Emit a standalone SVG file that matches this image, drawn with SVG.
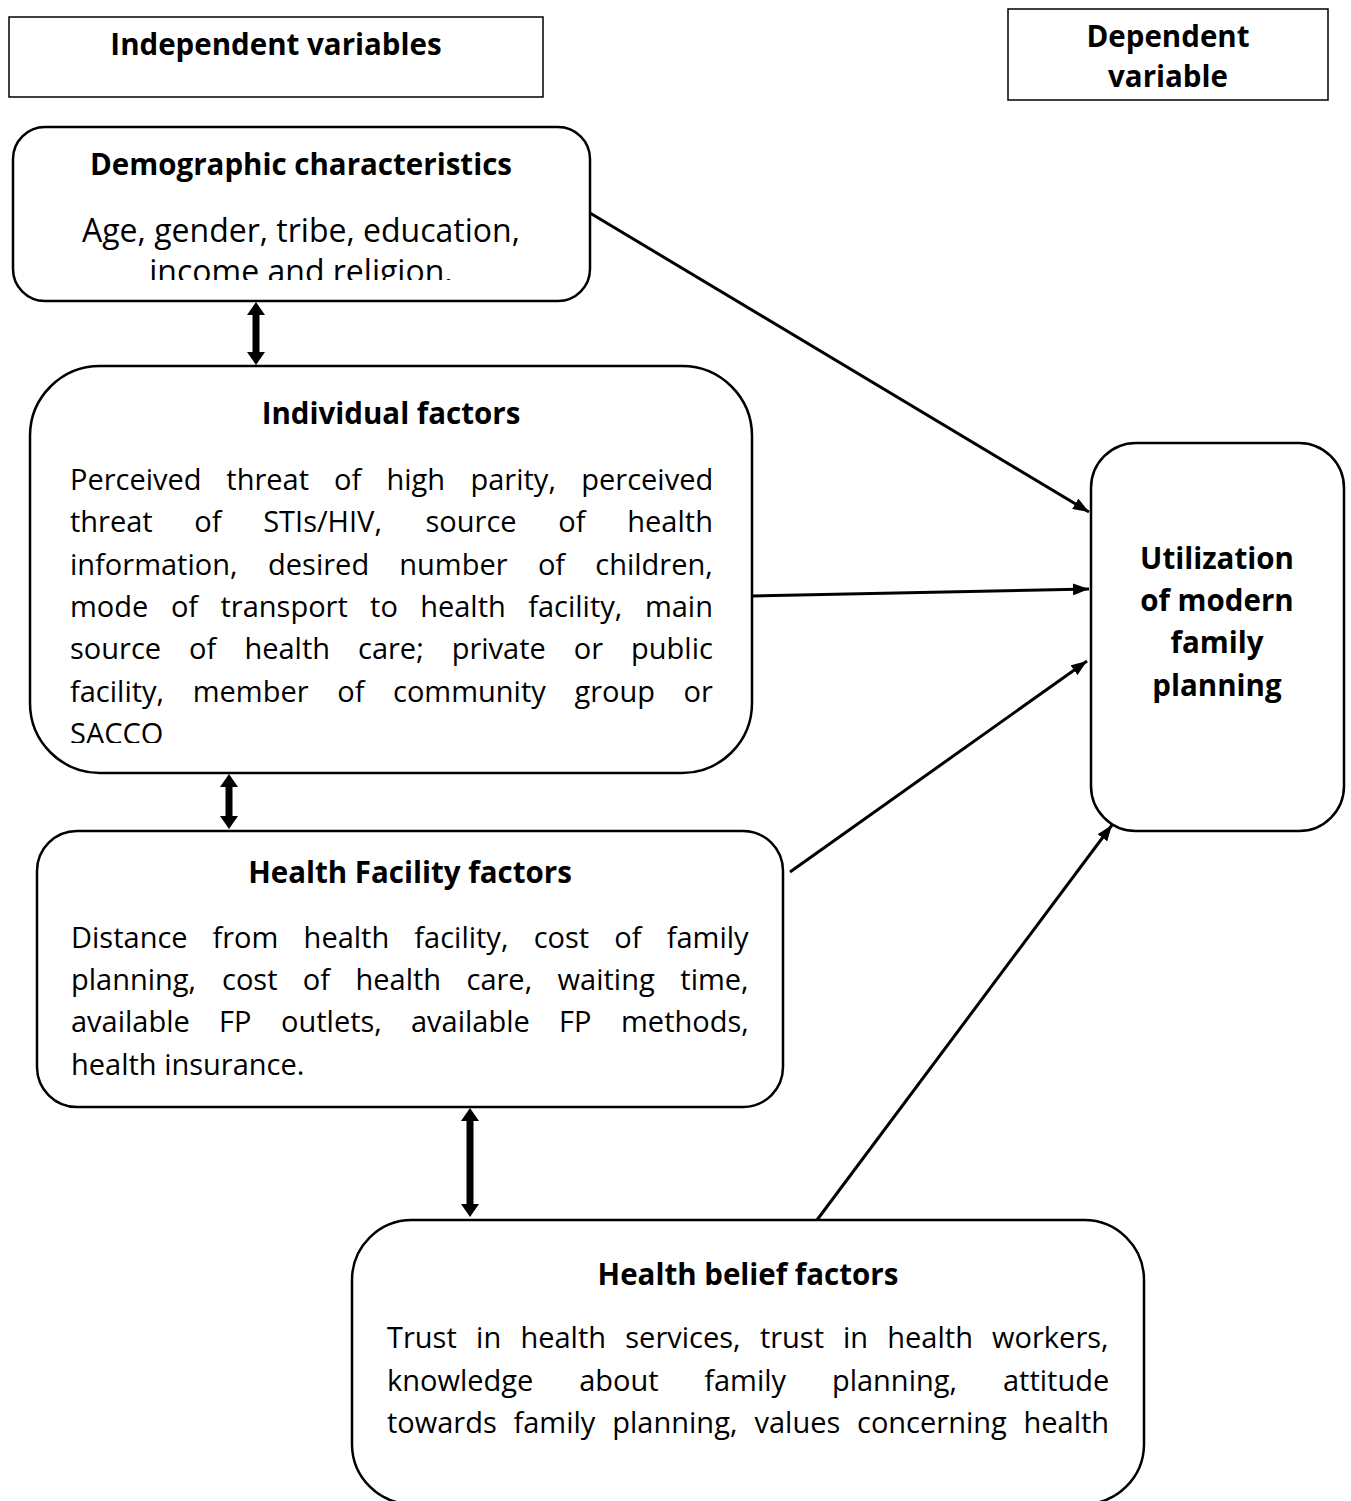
<svg xmlns="http://www.w3.org/2000/svg" width="1351" height="1501" viewBox="0 0 1351 1501">
<defs>
<style>
.box{fill:#fff;stroke:#000;stroke-width:2.5}
.hdr{fill:#fff;stroke:#000;stroke-width:1.5}
text{font-family:"Open Sans","Noto Sans","DejaVu Sans",sans-serif;fill:#000}
.t{font-size:29.5px;font-weight:bold;text-anchor:middle}
.b{font-size:29px}
.bc{font-size:32px;text-anchor:middle}
.ln{stroke:#000;stroke-width:3;fill:none;marker-end:url(#ah)}
.dl{stroke:#000;stroke-width:7;fill:none;marker-start:url(#dh);marker-end:url(#dh)}
</style>
<marker id="ah" viewBox="0 0 16 12" refX="16" refY="6" markerWidth="16" markerHeight="12" markerUnits="userSpaceOnUse" orient="auto"><path d="M0,0 L16,6 L0,12 z" fill="#000"/></marker>
<marker id="dh" viewBox="0 0 13 18" refX="1" refY="9" markerWidth="13" markerHeight="18" markerUnits="userSpaceOnUse" orient="auto-start-reverse"><path d="M0,0 L13,9 L0,18 z" fill="#000"/></marker>
<clipPath id="cDemo"><rect x="0" y="120" width="600" height="160"/></clipPath>
<clipPath id="cInd"><rect x="0" y="360" width="760" height="383"/></clipPath>
</defs>
<rect width="1351" height="1501" fill="#fff"/>

<g id="hdr-independent">
<rect class="hdr" x="9" y="17" width="534" height="80"/>
<text class="t" x="276" y="55">Independent variables</text>
</g>
<g id="hdr-dependent">
<rect class="hdr" x="1008" y="9" width="320" height="91"/>
<text class="t" x="1168" y="47">Dependent</text>
<text class="t" x="1168" y="87">variable</text>
</g>

<g id="connectors">
<line class="ln" x1="590" y1="213" x2="1089" y2="512"/>
<line class="ln" x1="752" y1="596" x2="1089" y2="589"/>
<line class="ln" x1="790" y1="872" x2="1087" y2="661"/>
<line class="ln" x1="817" y1="1220" x2="1112" y2="825"/>
<line class="dl" x1="256" y1="314" x2="256" y2="353"/>
<line class="dl" x1="229" y1="786" x2="229" y2="817"/>
<line class="dl" x1="470" y1="1120" x2="470" y2="1205"/>
</g>

<g id="demographic">
<rect class="box" x="13" y="127" width="577" height="174" rx="32"/>
<text class="t" x="301" y="175">Demographic characteristics</text>
<g clip-path="url(#cDemo)">
<text class="bc" x="301" y="242">Age, gender, tribe, education,</text>
<text class="bc" x="301" y="283">income and religion.</text>
</g>
</g>

<g id="individual">
<rect class="box" x="30" y="366" width="722" height="407" rx="70"/>
<text class="t" x="391" y="424">Individual factors</text>
<g clip-path="url(#cInd)">
<text class="b" y="490"><tspan x="70">Perceived</tspan> <tspan x="226.3">threat</tspan> <tspan x="334">of</tspan> <tspan x="386.5">high</tspan> <tspan x="470.5">parity,</tspan> <tspan x="581.3">perceived</tspan></text>
<text class="b" y="532"><tspan x="70">threat</tspan> <tspan x="194.2">of</tspan> <tspan x="263.2">STIs/HIV,</tspan> <tspan x="425.5">source</tspan> <tspan x="558.3">of</tspan> <tspan x="627.3">health</tspan></text>
<text class="b" y="575"><tspan x="70">information,</tspan> <tspan x="268.1">desired</tspan> <tspan x="399.3">number</tspan> <tspan x="537.9">of</tspan> <tspan x="595.3">children,</tspan></text>
<text class="b" y="617"><tspan x="70">mode</tspan> <tspan x="170.9">of</tspan> <tspan x="220.5">transport</tspan> <tspan x="370.1">to</tspan> <tspan x="420.2">health</tspan> <tspan x="528.2">facility,</tspan> <tspan x="644.9">main</tspan></text>
<text class="b" y="659"><tspan x="70">source</tspan> <tspan x="189.1">of</tspan> <tspan x="244.4">health</tspan> <tspan x="358">care;</tspan> <tspan x="451.7">private</tspan> <tspan x="573.8">or</tspan> <tspan x="631.1">public</tspan></text>
<text class="b" y="702"><tspan x="70">facility,</tspan> <tspan x="192.7">member</tspan> <tspan x="337.2">of</tspan> <tspan x="393">community</tspan> <tspan x="574.4">group</tspan> <tspan x="683.6">or</tspan></text>
<text class="b" x="70" y="744">SACCO</text>
</g>
</g>

<g id="facility">
<rect class="box" x="37" y="831" width="746" height="276" rx="40"/>
<text class="t" x="410" y="883">Health Facility factors</text>
<text class="b" y="948"><tspan x="71">Distance</tspan> <tspan x="212.4">from</tspan> <tspan x="303.6">health</tspan> <tspan x="414.3">facility,</tspan> <tspan x="533.7">cost</tspan> <tspan x="614.2">of</tspan> <tspan x="666.7">family</tspan></text>
<text class="b" y="990"><tspan x="71">planning,</tspan> <tspan x="222">cost</tspan> <tspan x="302.8">of</tspan> <tspan x="355.5">health</tspan> <tspan x="466.5">care,</tspan> <tspan x="557.6">waiting</tspan> <tspan x="680.3">time,</tspan></text>
<text class="b" y="1032"><tspan x="71">available</tspan> <tspan x="219.1">FP</tspan> <tspan x="281">outlets,</tspan> <tspan x="411">available</tspan> <tspan x="559.1">FP</tspan> <tspan x="621">methods,</tspan></text>
<text class="b" x="71" y="1075">health insurance.</text>
</g>

<g id="belief">
<rect class="box" x="352" y="1220" width="792" height="284" rx="60"/>
<text class="t" x="748" y="1285">Health belief factors</text>
<text class="b" y="1348"><tspan x="387">Trust</tspan> <tspan x="476.1">in</tspan> <tspan x="520.4">health</tspan> <tspan x="625.3">services,</tspan> <tspan x="759.9">trust</tspan> <tspan x="843">in</tspan> <tspan x="887.3">health</tspan> <tspan x="992.1">workers,</tspan></text>
<text class="b" y="1391"><tspan x="387">knowledge</tspan> <tspan x="579.2">about</tspan> <tspan x="704.2">family</tspan> <tspan x="831.9">planning,</tspan> <tspan x="1003">attitude</tspan></text>
<text class="b" y="1433"><tspan x="387">towards</tspan> <tspan x="513.5">family</tspan> <tspan x="612.3">planning,</tspan> <tspan x="754.5">values</tspan> <tspan x="857">concerning</tspan> <tspan x="1023.5">health</tspan></text>
</g>

<g id="utilization">
<rect class="box" x="1091" y="443" width="253" height="388" rx="45"/>
<text class="t" x="1217" y="569">Utilization</text>
<text class="t" x="1217" y="611">of modern</text>
<text class="t" x="1217" y="653">family</text>
<text class="t" x="1217" y="696">planning</text>
</g>
</svg>
